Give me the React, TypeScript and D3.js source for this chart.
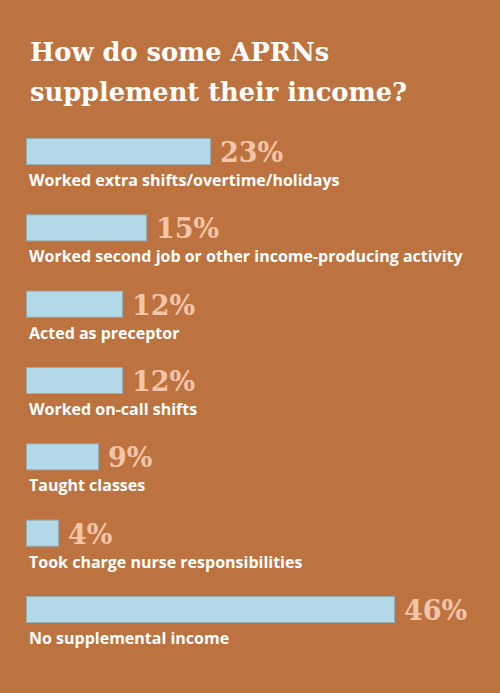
import { useEffect, useRef } from "react";
import * as d3 from "d3";

const categories = [
  "Worked extra shifts/overtime/holidays",
  "Worked second job or other income-producing activity",
  "Acted as preceptor",
  "Worked on-call shifts",
  "Taught classes",
  "Took charge nurse responsibilities",
  "No supplemental income",
];
const values = [23, 15, 12, 12, 9, 4, 46];
const titleLines = ["How do some APRNs", "supplement their income?"];

const W = 500;
const H = 693;

export default function App() {
  const svgRef = useRef(null);

  useEffect(() => {
    const svg = d3.select(svgRef.current);
    svg.selectAll("*").remove();

    svg.append("rect").attr("width", W).attr("height", H).attr("fill", "#bd733f");

    // title
    svg.append("g")
      .selectAll("text")
      .data(titleLines)
      .enter()
      .append("text")
      .attr("x", 30)
      .attr("y", (d, i) => 61 + i * 40)
      .attr("fill", "#ffffff")
      .attr("font-family", "DejaVu Serif")
      .attr("font-weight", 700)
      .attr("font-size", 25.7)
      .text((d) => d);

    const x = d3.scaleLinear().domain([0, 46]).range([0, 368]);
    const y = d3.scalePoint().domain(categories).range([138, 596]);
    const barH = 26;

    const rows = svg.append("g")
      .selectAll("g.row")
      .data(categories.map((c, i) => ({ name: c, value: values[i] })))
      .enter()
      .append("g")
      .attr("class", "row")
      .attr("transform", (d) => `translate(26,${y(d.name)})`);

    rows.append("rect")
      .attr("x", 0.5)
      .attr("y", 0.5)
      .attr("width", (d) => x(d.value))
      .attr("height", barH)
      .attr("fill", "#b3d9e8")
      .attr("stroke", "#98adb2")
      .attr("stroke-width", 1);

    rows.append("text")
      .attr("x", (d) => x(d.value) + 10)
      .attr("y", barH - 2)
      .attr("fill", "#f3c5a9")
      .attr("font-family", "DejaVu Serif")
      .attr("font-weight", 700)
      .attr("font-size", 27)
      .text((d) => `${d.value}%`);

    rows.append("text")
      .attr("x", 3)
      .attr("y", 48)
      .attr("fill", "#ffffff")
      .attr("font-family", "'Open Sans'")
      .attr("font-weight", 700)
      .attr("font-size", 16)
      .text((d) => d.name);
  }, []);

  return (
    <svg
      ref={svgRef}
      width={W}
      height={H}
      style={{ position: "absolute", left: 0, top: 0, display: "block" }}
    />
  );
}
